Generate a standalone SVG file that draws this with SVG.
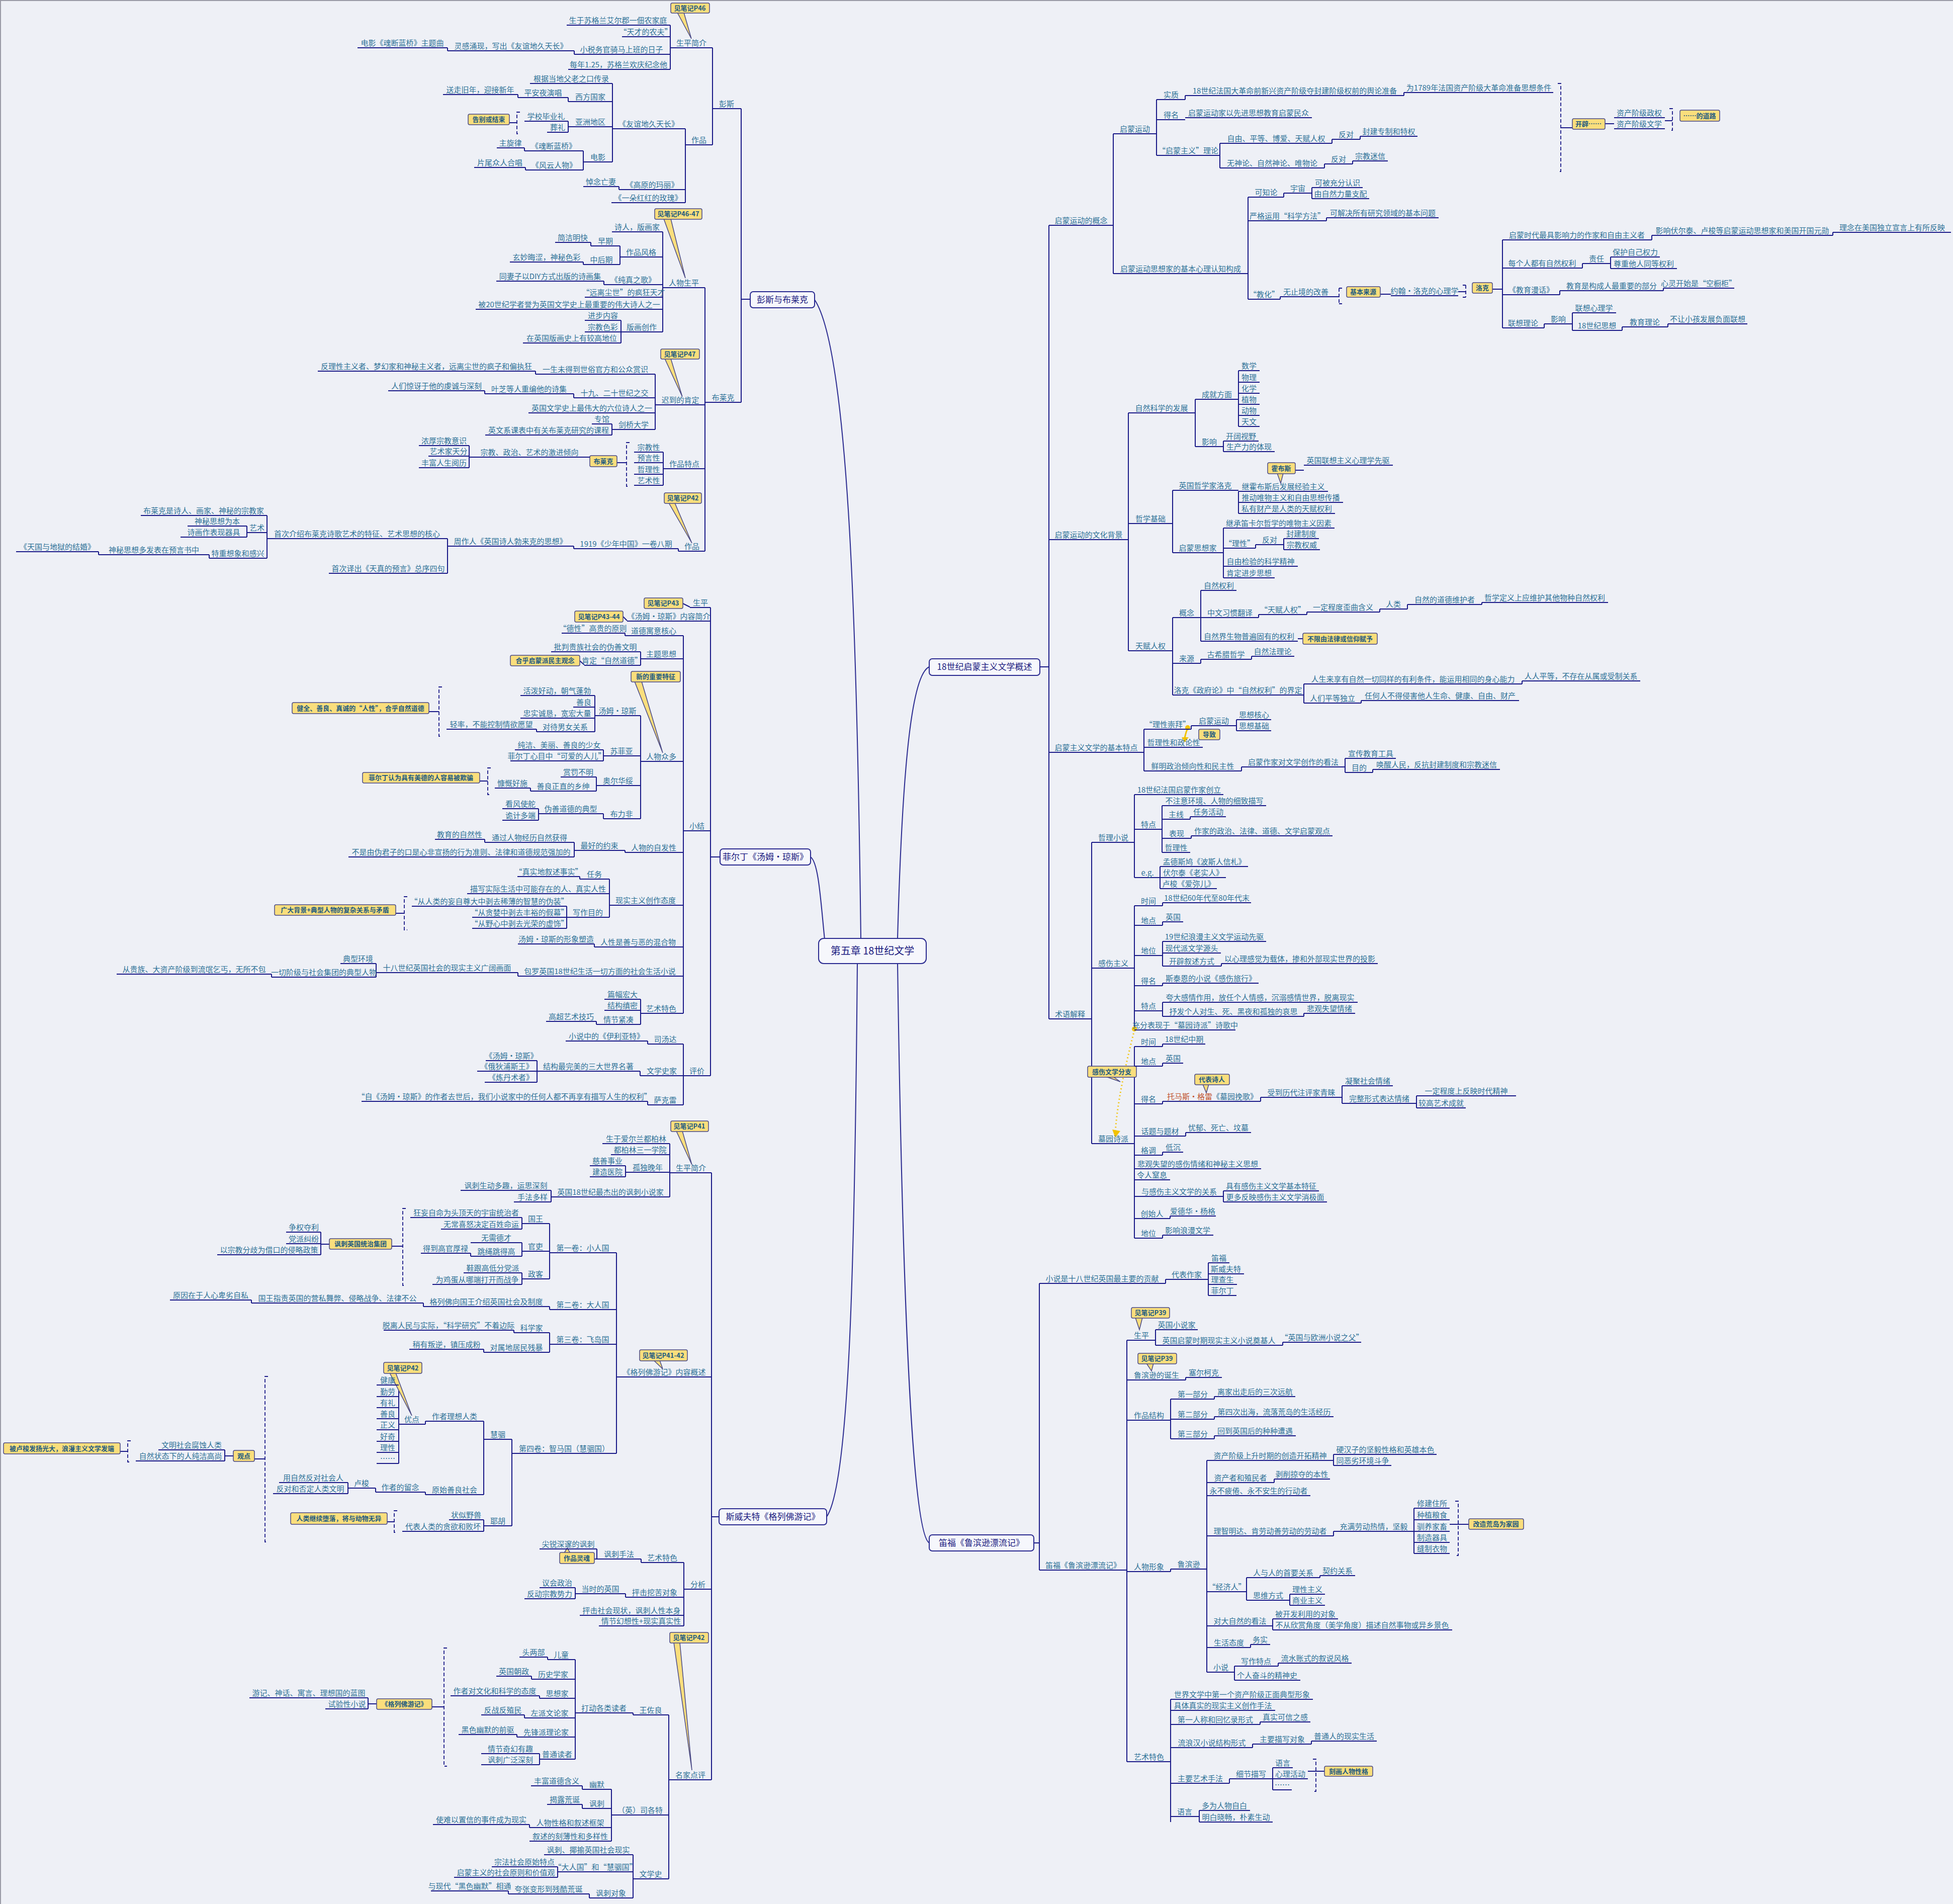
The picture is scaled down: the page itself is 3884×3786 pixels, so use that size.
<svg xmlns="http://www.w3.org/2000/svg" width="3884" height="3786" viewBox="0 0 3884 3786">
<style>
text{font-family:"Noto Sans CJK SC","Noto Sans",sans-serif}
.t{font-size:15px;fill:#2d7196;text-anchor:middle}
.n path{stroke:#1a1a88;stroke-width:2;fill:none}
.k{stroke:#1a1a88;stroke-width:2;fill:none;stroke-linejoin:round}
.d{stroke:#1a1a88;stroke-width:1.8;fill:none;stroke-dasharray:7 4}
.cb{fill:#fade7c;stroke:#4a4a86;stroke-width:1.5}
.ct{font-size:13px;font-weight:bold;fill:#1d5a80;text-anchor:middle}
.m{fill:#f6f7fc;stroke:#2a2a90;stroke-width:2}
.mt{font-size:17px;fill:#1a1a80;text-anchor:middle}
.cv{stroke:#2a2a90;stroke-width:2;fill:none}
</style>
<rect x="0" y="0" width="3884" height="3786" fill="#eef0f6"/>
<path d="M0 1H3884M1 0V3786" stroke="#9a9aa6" stroke-width="2"/>

<g id="connectors">
<path class="cv" d="M1712 1866C1705 1300 1690 700 1620 596"/>
<path class="cv" d="M1640 1868C1632 1790 1628 1715 1612 1704"/>
<path class="cv" d="M1705 1916C1700 2500 1690 2950 1644 3016"/>
<path class="cv" d="M1785 1866C1795 1500 1815 1340 1848 1326"/>
<path class="cv" d="M1785 1916C1795 2600 1815 3050 1848 3068"/>
<path class="k" d="M1474 216V800M1474 595H1492M1417 95V288M1333 50V138M1142 101V108M890 95V101M1363 256V403M1218 166V322M1130 194V202M1030 188V194M1130 241V263M1160 300V338M1043 294V300M1045 333V338M1231 371V377M1402 572V1096M1318 461V660M1233 489V526M1175 482V489M1160 521V526M1201 559V566M1235 637V682M1303 744V854M1065 738V744M1141 783V791M964 777V783M1217 843V865M1319 899V965M933 886V930M1349 1091V1096M1141 1086V1091M890 1071V1140M531 1025V1110M491 1046V1068M416 1103V1110M196 1097V1103"/>
<path class="k" d="M1413 1208V2139M1413 1704H1432M1359 1264V2015M1243 1259V1264M1274 1296V1323M1274 1423V1628M1183 1383V1455M1067 1450V1455M1200 1491V1513M1186 1545V1573M1055 1567V1573M1200 1618V1628M1071 1608V1631M1243 1691V1695M1142 1675V1704M964 1669V1675M1212 1748V1824M1153 1743V1748M1127 1802V1846M1182 1877V1883M1030 1934V1941M748 1916V1943M540 1937V1943M1274 1987V2037M1186 2031V2037M1359 2076V2197M1288 2070V2076M1273 2130V2139M1068 2109V2152M1288 2190V2197"/>
<path class="k" d="M1415 2332V3539M1415 3016H1430M1332 2274V2380M1244 2318V2340M1096 2367V2390M1226 2491V2890M1093 2433V2543M1038 2421V2444M1038 2471V2498M936 2492V2498M1038 2531V2554M638 2450V2495M638 2474H655M1093 2598V2604M842 2591V2598M500 2585V2591M1093 2650V2689M1022 2645V2650M962 2683V2689M1018 2862V3034M962 2826V2972M846 2826V2832M793 2754V2910M846 2967V2972M747 2959V2967M692 2948V2970M962 3022V3045M447 2883V2905M447 2895H464M1360 3107V3233M1275 3100V3107M1187 3080V3100M1244 3169V3176M1144 3157V3179M1330 3410V3736M1259 3406V3410M1144 3300V3498M1089 3295V3300M1057 3333V3339M1073 3372V3377M1043 3410V3416M1028 3449V3454M1073 3487V3509M732 3376V3398M732 3388H749M1216 3558V3661M1158 3551V3558M1158 3588V3596M1053 3628V3634M1259 3688V3774M1109 3712V3733M1172 3766V3774M1011 3760V3766"/>
<path class="k" d="M2086 448V2026M2068 1326H2086M2214 266V544M2300 198V309M2357 190V198M2792 184V190M2426 285V334M2649 277V285M2705 271V277M2634 326V334M2690 320V326M2482 392V595M2553 384V392M2609 373V395M2638 433V439M2546 590V595M2988 477V652M2968 575H2988M3285 468V477M3645 462V468M3147 524V533M3203 511V534M3102 578V586M3308 573V578M3071 644V652M3127 622V657M3226 650V657M3317 644V650M2244 821V1294M2377 794V888M2463 737V848M2433 877V898M2332 975V1099M2463 977V1021M2433 1050V1149M2497 1083V1090M2553 1071V1093M2332 1228V1382M2388 1174V1275M2503 1222V1228M2599 1217V1222M2744 1211V1217M2799 1202V1211M2947 1198V1202M2388 1311V1319M2489 1305V1311M2593 1360V1398M3027 1354V1360M2707 1393V1398M2275 1450V1533M2369 1443V1450M2459 1431V1453M2469 1525V1533M2675 1508V1536M2730 1530V1536M2171 1675V2274M2256 1580V1745M2311 1602V1695M2367 1624V1629M2369 1662V1667M2307 1723V1767M2256 1801V2048M2312 1795V1801M2312 1833V1840M2312 1872V1921M2429 1916V1921M2312 1955V1960M2312 1993V2021M2593 2015V2021M2256 2081V2462M2312 2076V2081M2312 2114V2120M2312 2190V2195M2507 2182V2190M2669 2159V2194M2817 2179V2203M2358 2252V2259M2312 2291V2297M2433 2368V2390M2327 2418V2423M2312 2456V2462"/>
<path class="k" d="M2067 2552V3122M2056 3068H2067M2403 2511V2576M2318 2544V2552M2241 2665V3503M2298 2644V2675M2551 2669V2675M2358 2739V2744M2328 2782V2861M2415 2777V2782M2415 2817V2822M2415 2855V2861M2328 3120V3125M2400 2904V3325M2652 2892V2914M2534 2941V2948M2652 3045V3054M2812 2999V3089M2479 3137V3182M2625 3133V3137M2565 3170V3192M2531 3219V3241M2487 3270V3276M2455 3313V3341M2542 3307V3313M2328 3379V3623M2506 3424V3429M2491 3468V3475M2608 3462V3468M2445 3537V3546M2531 3515V3559M2385 3600V3623"/>
<path class="k" d="M1013 244H1028M1227 920H1246M1358 1200L1372 1207M1239 1226L1247 1234M1153 1314L1162 1322M853 1415H873M954 1553H970M787 1816H804M779 2478H801M770 3026H784M506 2901H527M239 2886H254M1182 3100H1187M859 3394H883M3104 254H3127M3192 246H3210M3311 240H3326M2647 590H2663M2745 585H2766M2900 580H2915M2576 935H2593M2581 1270H2591M2883 3031H2900M2900 3031H2921M2601 3522H2634"/>
<path class="d" d="M1034 223H1028V266H1034M1252 880H1246V967H1252M879 1366H873V1464H879M976 1527H970V1580H976M810 1783H804V1849H810M807 2403H801V2556H807M790 3004H784V3047H790M533 2737H527V3066H533M260 2865H254V2907H260M889 3277H883V3512H889M3098 166H3104V341H3098M3320 216H3326V259H3320M2663 573V604M2669 573H2663M2669 604H2663M2915 567V591M2909 567H2915M2909 591H2915M2894 2985H2900V3093H2894M2611 3498H2617V3562H2611"/>
<path d="M2256 2048C2238 2120 2222 2190 2218 2252" stroke="#f2c200" stroke-width="3" fill="none" stroke-dasharray="2 5"/>
<circle cx="2256" cy="2046" r="5" fill="#f2c200"/>
<path d="M2212 2246L2218 2262L2228 2249Z" fill="#f2c200"/>
<path d="M2362 1447C2358 1458 2356 1464 2356 1470" stroke="#f2c200" stroke-width="3" fill="none"/>
<circle cx="2362" cy="1447" r="5" fill="#f2c200"/>
<path d="M2350 1466L2356 1476L2364 1466Z" fill="#f2c200"/>
</g>

<g id="center"><rect class="m" x="1628" y="1866" width="214" height="50" rx="10"/><text class="mt" x="1735" y="1898" style="font-size:20px">第五章 18世纪文学</text></g>
<g id="burns-blake"><rect class="m" x="1492" y="580" width="128" height="32" rx="6"/><text class="mt" x="1556" y="602">彭斯与布莱克</text></g>
<g id="fielding"><rect class="m" x="1432" y="1688" width="180" height="32" rx="6"/><text class="mt" x="1522" y="1710">菲尔丁《汤姆·琼斯》</text></g>
<g id="swift"><rect class="m" x="1430" y="3000" width="214" height="32" rx="6"/><text class="mt" x="1537" y="3022">斯威夫特《格列佛游记》</text></g>
<g id="overview"><rect class="m" x="1848" y="1310" width="220" height="33" rx="6"/><text class="mt" x="1958" y="1332">18世纪启蒙主义文学概述</text></g>
<g id="defoe"><rect class="m" x="1848" y="3052" width="208" height="32" rx="6"/><text class="mt" x="1952" y="3074">笛福《鲁滨逊漂流记》</text></g>

<g id="c1"><path class="cb" d="M1347 25L1375 77L1360 25Z"/><rect class="cb" x="1334" y="6" width="77" height="20" rx="3"/><text class="ct" x="1372" y="21">见笔记P46</text></g>
<g id="c2"><rect class="cb" x="931" y="227" width="82" height="21" rx="3"/><text class="ct" x="972" y="242">告别或结束</text></g>
<g id="c3"><path class="cb" d="M1320 435L1363 553L1334 435Z"/><rect class="cb" x="1302" y="415" width="94" height="21" rx="3"/><text class="ct" x="1349" y="430">见笔记P46-47</text></g>
<g id="c4"><path class="cb" d="M1322 713L1357 789L1334 713Z"/><rect class="cb" x="1314" y="694" width="77" height="20" rx="3"/><text class="ct" x="1352" y="709">见笔记P47</text></g>
<g id="c5"><rect class="cb" x="1173" y="906" width="54" height="22" rx="3"/><text class="ct" x="1200" y="922">布莱克</text></g>
<g id="c6"><path class="cb" d="M1330 1000L1376 1080L1342 1000Z"/><rect class="cb" x="1321" y="980" width="74" height="21" rx="3"/><text class="ct" x="1358" y="995">见笔记P42</text></g>
<g id="c7"><rect class="cb" x="1281" y="1189" width="77" height="21" rx="3"/><text class="ct" x="1319" y="1204">见笔记P43</text></g>
<g id="c8"><rect class="cb" x="1143" y="1215" width="96" height="22" rx="3"/><text class="ct" x="1191" y="1231">见笔记P43-44</text></g>
<g id="c9"><rect class="cb" x="1015" y="1303" width="138" height="21" rx="3"/><text class="ct" x="1084" y="1318">合乎启蒙派民主观念</text></g>
<g id="c10"><path class="cb" d="M1262 1355L1318 1497L1276 1355Z"/><rect class="cb" x="1255" y="1335" width="98" height="21" rx="3"/><text class="ct" x="1304" y="1350">新的重要特征</text></g>
<g id="c11"><rect class="cb" x="581" y="1397" width="272" height="22" rx="3"/><text class="ct" x="717" y="1413">健全、善良、真诚的“人性”，合乎自然道德</text></g>
<g id="c12"><rect class="cb" x="721" y="1536" width="233" height="21" rx="3"/><text class="ct" x="837" y="1551">菲尔丁认为具有美德的人容易被欺骗</text></g>
<g id="c13"><rect class="cb" x="546" y="1799" width="241" height="21" rx="3"/><text class="ct" x="666" y="1814">广大背景+典型人物的复杂关系与矛盾</text></g>
<g id="c14"><path class="cb" d="M1345 2249L1376 2316L1357 2249Z"/><rect class="cb" x="1334" y="2229" width="75" height="21" rx="3"/><text class="ct" x="1371" y="2244">见笔记P41</text></g>
<g id="c15"><rect class="cb" x="655" y="2463" width="124" height="21" rx="3"/><text class="ct" x="717" y="2478">讽刺英国统治集团</text></g>
<g id="c16"><path class="cb" d="M1300 2705L1318 2722L1312 2705Z"/><rect class="cb" x="1272" y="2684" width="95" height="22" rx="3"/><text class="ct" x="1319" y="2700">见笔记P41-42</text></g>
<g id="c17"><path class="cb" d="M775 2730L819 2815L787 2730Z"/><rect class="cb" x="763" y="2709" width="76" height="22" rx="3"/><text class="ct" x="801" y="2725">见笔记P42</text></g>
<g id="c18"><rect class="cb" x="578" y="3008" width="192" height="23" rx="3"/><text class="ct" x="674" y="3024">人类继续堕落，将与动物无异</text></g>
<g id="c19"><rect class="cb" x="464" y="2884" width="42" height="22" rx="3"/><text class="ct" x="485" y="2900">观点</text></g>
<g id="c20"><rect class="cb" x="7" y="2869" width="232" height="22" rx="3"/><text class="ct" x="123" y="2885">被卢梭发扬光大，浪漫主义文学发端</text></g>
<g id="c21"><path class="cb" d="M1122 3088L1128 3078L1134 3088Z"/><rect class="cb" x="1113" y="3087" width="69" height="22" rx="3"/><text class="ct" x="1147" y="3103">作品灵魂</text></g>
<g id="c22"><path class="cb" d="M1340 3266L1376 3520L1352 3266Z"/><rect class="cb" x="1332" y="3246" width="77" height="21" rx="3"/><text class="ct" x="1370" y="3261">见笔记P42</text></g>
<g id="c23"><rect class="cb" x="749" y="3378" width="110" height="21" rx="3"/><text class="ct" x="804" y="3393">《格列佛游记》</text></g>
<g id="c24"><rect class="cb" x="3127" y="236" width="65" height="21" rx="3"/><text class="ct" x="3159" y="251">开辟……</text></g>
<g id="c25"><rect class="cb" x="3341" y="219" width="79" height="22" rx="3"/><text class="ct" x="3380" y="235">……的道路</text></g>
<g id="c26"><rect class="cb" x="2678" y="570" width="67" height="21" rx="3"/><text class="ct" x="2711" y="585">基本来源</text></g>
<g id="c27"><rect class="cb" x="2928" y="562" width="40" height="21" rx="3"/><text class="ct" x="2948" y="577">洛克</text></g>
<g id="c28"><path class="cb" d="M2540 941L2547 961L2552 941Z"/><rect class="cb" x="2521" y="920" width="55" height="22" rx="3"/><text class="ct" x="2548" y="936">霍布斯</text></g>
<g id="c29"><rect class="cb" x="2591" y="1259" width="148" height="22" rx="3"/><text class="ct" x="2665" y="1275">不限由法律或信仰赋予</text></g>
<g id="c30"><rect class="cb" x="2384" y="1450" width="42" height="21" rx="3"/><text class="ct" x="2405" y="1465">导致</text></g>
<g id="c31"><path class="cb" d="M2200 2141L2228 2151L2214 2141Z"/><rect class="cb" x="2163" y="2120" width="97" height="22" rx="3"/><text class="ct" x="2211" y="2136">感伤文学分支</text></g>
<g id="c32"><path class="cb" d="M2392 2156L2399 2173L2404 2156Z"/><rect class="cb" x="2376" y="2136" width="69" height="21" rx="3"/><text class="ct" x="2410" y="2151">代表诗人</text></g>
<g id="c33"><rect class="cb" x="2921" y="3020" width="109" height="21" rx="3"/><text class="ct" x="2975" y="3035">改造荒岛为家园</text></g>
<g id="c34"><rect class="cb" x="2634" y="3512" width="96" height="20" rx="3"/><text class="ct" x="2682" y="3527">刻画人物性格</text></g>
<g id="c35"><path class="cb" d="M2258 2620L2266 2644L2272 2620Z"/><rect class="cb" x="2250" y="2600" width="76" height="21" rx="3"/><text class="ct" x="2288" y="2615">见笔记P39</text></g>
<g id="c36"><path class="cb" d="M2280 2711L2290 2726L2294 2711Z"/><rect class="cb" x="2263" y="2691" width="77" height="21" rx="3"/><text class="ct" x="2301" y="2706">见笔记P39</text></g>

<g id="b1" class="n"><path d="M1417 216H1474"/><text class="t" x="1445" y="212">彭斯</text></g>
<g id="b2" class="n"><path d="M1333 95H1417"/><text class="t" x="1375" y="91">生平简介</text></g>
<g id="b3" class="n"><path d="M1127 50H1333"/><text class="t" x="1229" y="46">生于苏格兰艾尔郡一佃农家庭</text></g>
<g id="b4" class="n"><path d="M1237 73H1333"/><text class="t" x="1284" y="69">“天才的农夫”</text></g>
<g id="b5" class="n"><path d="M1142 108H1333"/><text class="t" x="1236" y="104">小税务官骑马上班的日子</text></g>
<g id="b6" class="n"><path d="M1130 138H1333"/><text class="t" x="1230" y="134">每年1.25，苏格兰欢庆纪念他</text></g>
<g id="b7" class="n"><path d="M890 101H1142"/><text class="t" x="1016" y="97">灵感涌现，写出《友谊地久天长》</text></g>
<g id="b8" class="n"><path d="M711 95H890"/><text class="t" x="800" y="91">电影《魂断蓝桥》主题曲</text></g>
<g id="b9" class="n"><path d="M1363 288H1417"/><text class="t" x="1390" y="284">作品</text></g>
<g id="b10" class="n"><path d="M1218 256H1363"/><text class="t" x="1290" y="252">《友谊地久天长》</text></g>
<g id="b11" class="n"><path d="M1231 377H1363"/><text class="t" x="1297" y="373">《高原的玛丽》</text></g>
<g id="b12" class="n"><path d="M1216 403H1363"/><text class="t" x="1289" y="399">《一朵红红的玫瑰》</text></g>
<g id="b13" class="n"><path d="M1054 166H1218"/><text class="t" x="1136" y="162">根据当地父老之口传录</text></g>
<g id="b14" class="n"><path d="M1130 202H1218"/><text class="t" x="1174" y="198">西方国家</text></g>
<g id="b15" class="n"><path d="M1130 252H1218"/><text class="t" x="1174" y="248">亚洲地区</text></g>
<g id="b16" class="n"><path d="M1160 322H1218"/><text class="t" x="1189" y="318">电影</text></g>
<g id="b17" class="n"><path d="M1030 194H1130"/><text class="t" x="1080" y="190">平安夜演唱</text></g>
<g id="b18" class="n"><path d="M881 188H1030"/><text class="t" x="955" y="184">送走旧年，迎接新年</text></g>
<g id="b19" class="n"><path d="M1043 241H1130"/><text class="t" x="1086" y="237">学校毕业礼</text></g>
<g id="b20" class="n"><path d="M1088 263H1130"/><text class="t" x="1109" y="259">葬礼</text></g>
<g id="b21" class="n"><path d="M1043 300H1160"/><text class="t" x="1101" y="296">《魂断蓝桥》</text></g>
<g id="b22" class="n"><path d="M1045 338H1160"/><text class="t" x="1102" y="334">《风云人物》</text></g>
<g id="b23" class="n"><path d="M988 294H1043"/><text class="t" x="1015" y="290">主旋律</text></g>
<g id="b24" class="n"><path d="M943 333H1045"/><text class="t" x="994" y="329">片尾众人合唱</text></g>
<g id="b25" class="n"><path d="M1160 371H1231"/><text class="t" x="1195" y="367">悼念亡妻</text></g>
<g id="b26" class="n"><path d="M1402 800H1474"/><text class="t" x="1438" y="796">布莱克</text></g>
<g id="b27" class="n"><path d="M1318 572H1402"/><text class="t" x="1360" y="568">人物生平</text></g>
<g id="b28" class="n"><path d="M1217 461H1318"/><text class="t" x="1267" y="457">诗人，版画家</text></g>
<g id="b29" class="n"><path d="M1233 511H1318"/><text class="t" x="1275" y="507">作品风格</text></g>
<g id="b30" class="n"><path d="M1201 566H1318"/><text class="t" x="1259" y="562">《纯真之歌》</text></g>
<g id="b31" class="n"><path d="M1163 591H1318"/><text class="t" x="1240" y="587">“远离尘世”的疯狂天才</text></g>
<g id="b32" class="n"><path d="M946 615H1318"/><text class="t" x="1132" y="611">被20世纪学者誉为英国文学史上最重要的伟大诗人之一</text></g>
<g id="b33" class="n"><path d="M1235 660H1318"/><text class="t" x="1276" y="656">版画创作</text></g>
<g id="b34" class="n"><path d="M1175 489H1233"/><text class="t" x="1204" y="485">早期</text></g>
<g id="b35" class="n"><path d="M1160 526H1233"/><text class="t" x="1196" y="522">中后期</text></g>
<g id="b36" class="n"><path d="M1104 482H1175"/><text class="t" x="1139" y="478">简洁明快</text></g>
<g id="b37" class="n"><path d="M1014 521H1160"/><text class="t" x="1087" y="517">玄妙晦涩，神秘色彩</text></g>
<g id="b38" class="n"><path d="M987 559H1201"/><text class="t" x="1094" y="555">同妻子以DIY方式出版的诗画集</text></g>
<g id="b39" class="n"><path d="M1163 637H1235"/><text class="t" x="1199" y="633">进步内容</text></g>
<g id="b40" class="n"><path d="M1163 660H1235"/><text class="t" x="1199" y="656">宗教色彩</text></g>
<g id="b41" class="n"><path d="M1040 682H1235"/><text class="t" x="1137" y="678">在英国版画史上有较高地位</text></g>
<g id="b42" class="n"><path d="M1303 805H1402"/><text class="t" x="1353" y="801">迟到的肯定</text></g>
<g id="b43" class="n"><path d="M1065 744H1303"/><text class="t" x="1184" y="740">一生未得到世俗官方和公众赏识</text></g>
<g id="b44" class="n"><path d="M1141 791H1303"/><text class="t" x="1222" y="787">十九、二十世纪之交</text></g>
<g id="b45" class="n"><path d="M1051 821H1303"/><text class="t" x="1177" y="817">英国文学史上最伟大的六位诗人之一</text></g>
<g id="b46" class="n"><path d="M1217 854H1303"/><text class="t" x="1260" y="850">剑桥大学</text></g>
<g id="b47" class="n"><path d="M632 738H1065"/><text class="t" x="848" y="734">反理性主义者、梦幻家和神秘主义者，远离尘世的疯子和偏执狂</text></g>
<g id="b48" class="n"><path d="M964 783H1141"/><text class="t" x="1052" y="779">叶芝等人重编他的诗集</text></g>
<g id="b49" class="n"><path d="M772 777H964"/><text class="t" x="868" y="773">人们惊讶于他的虔诚与深刻</text></g>
<g id="b50" class="n"><path d="M1177 843H1217"/><text class="t" x="1197" y="839">专馆</text></g>
<g id="b51" class="n"><path d="M965 865H1217"/><text class="t" x="1091" y="861">英文系课表中有关布莱克研究的课程</text></g>
<g id="b52" class="n"><path d="M1319 932H1402"/><text class="t" x="1361" y="928">作品特点</text></g>
<g id="b53" class="n"><path d="M1261 899H1319"/><text class="t" x="1290" y="895">宗教性</text></g>
<g id="b54" class="n"><path d="M1261 920H1319"/><text class="t" x="1290" y="916">预言性</text></g>
<g id="b55" class="n"><path d="M1261 943H1319"/><text class="t" x="1290" y="939">哲理性</text></g>
<g id="b56" class="n"><path d="M1261 965H1319"/><text class="t" x="1290" y="961">艺术性</text></g>
<g id="b57" class="n"><path d="M933 909H1173"/><text class="t" x="1053" y="905">宗教、政治、艺术的激进倾向</text></g>
<g id="b58" class="n"><path d="M833 886H933"/><text class="t" x="883" y="882">浓厚宗教意识</text></g>
<g id="b59" class="n"><path d="M852 907H933"/><text class="t" x="892" y="903">艺术家天分</text></g>
<g id="b60" class="n"><path d="M833 930H933"/><text class="t" x="883" y="926">丰富人生阅历</text></g>
<g id="b61" class="n"><path d="M1349 1096H1402"/><text class="t" x="1376" y="1092">作品</text></g>
<g id="b62" class="n"><path d="M1141 1091H1349"/><text class="t" x="1245" y="1087">1919《少年中国》一卷八期</text></g>
<g id="b63" class="n"><path d="M890 1086H1141"/><text class="t" x="1015" y="1082">周作人《英国诗人勃来克的思想》</text></g>
<g id="b64" class="n"><path d="M531 1071H890"/><text class="t" x="710" y="1067">首次介绍布莱克诗歌艺术的特征、艺术思想的核心</text></g>
<g id="b65" class="n"><path d="M654 1140H890"/><text class="t" x="772" y="1136">首次译出《天真的预言》总序四句</text></g>
<g id="b66" class="n"><path d="M280 1025H531"/><text class="t" x="405" y="1021">布莱克是诗人、画家、神秘的宗教家</text></g>
<g id="b67" class="n"><path d="M491 1059H531"/><text class="t" x="511" y="1055">艺术</text></g>
<g id="b68" class="n"><path d="M416 1110H531"/><text class="t" x="473" y="1106">特重想象和感兴</text></g>
<g id="b69" class="n"><path d="M373 1046H491"/><text class="t" x="432" y="1042">神秘思想为本</text></g>
<g id="b70" class="n"><path d="M359 1068H491"/><text class="t" x="425" y="1064">诗画作表现器具</text></g>
<g id="b71" class="n"><path d="M196 1103H416"/><text class="t" x="306" y="1099">神秘思想多发表在预言书中</text></g>
<g id="b72" class="n"><path d="M32 1097H196"/><text class="t" x="114" y="1093">《天国与地狱的结婚》</text></g>

<g id="f1" class="n"><path d="M1372 1208H1413"/><text class="t" x="1393" y="1204">生平</text></g>
<g id="f2" class="n"><path d="M1247 1235H1413"/><text class="t" x="1330" y="1231">《汤姆·琼斯》内容简介</text></g>
<g id="f3" class="n"><path d="M1359 1652H1413"/><text class="t" x="1386" y="1648">小结</text></g>
<g id="f4" class="n"><path d="M1359 2139H1413"/><text class="t" x="1386" y="2135">评价</text></g>
<g id="f5" class="n"><path d="M1243 1264H1359"/><text class="t" x="1300" y="1260">道德寓意核心</text></g>
<g id="f6" class="n"><path d="M1117 1259H1243"/><text class="t" x="1179" y="1255">“德性”高贵的原则</text></g>
<g id="f7" class="n"><path d="M1274 1310H1359"/><text class="t" x="1315" y="1306">主题思想</text></g>
<g id="f8" class="n"><path d="M1096 1296H1274"/><text class="t" x="1184" y="1292">批判贵族社会的伪善文明</text></g>
<g id="f9" class="n"><path d="M1162 1323H1274"/><text class="t" x="1217" y="1319">肯定“自然道德”</text></g>
<g id="f10" class="n"><path d="M1274 1514H1359"/><text class="t" x="1315" y="1510">人物众多</text></g>
<g id="f11" class="n"><path d="M1183 1423H1274"/><text class="t" x="1228" y="1419">汤姆·琼斯</text></g>
<g id="f12" class="n"><path d="M1035 1383H1183"/><text class="t" x="1108" y="1379">活泼好动，朝气蓬勃</text></g>
<g id="f13" class="n"><path d="M1140 1406H1183"/><text class="t" x="1161" y="1402">善良</text></g>
<g id="f14" class="n"><path d="M1035 1428H1183"/><text class="t" x="1108" y="1424">忠实诚恳，宽宏大量</text></g>
<g id="f15" class="n"><path d="M1067 1455H1183"/><text class="t" x="1124" y="1451">对待男女关系</text></g>
<g id="f16" class="n"><path d="M888 1450H1067"/><text class="t" x="977" y="1446">轻率，不能控制情欲愿望</text></g>
<g id="f17" class="n"><path d="M1200 1503H1274"/><text class="t" x="1236" y="1499">苏菲亚</text></g>
<g id="f18" class="n"><path d="M1024 1491H1200"/><text class="t" x="1112" y="1487">纯洁、美丽、善良的少女</text></g>
<g id="f19" class="n"><path d="M1015 1513H1200"/><text class="t" x="1107" y="1509">菲尔丁心目中“可爱的人儿”</text></g>
<g id="f20" class="n"><path d="M1186 1562H1274"/><text class="t" x="1229" y="1558">奥尔华绥</text></g>
<g id="f21" class="n"><path d="M1115 1545H1186"/><text class="t" x="1150" y="1541">赏罚不明</text></g>
<g id="f22" class="n"><path d="M1055 1573H1186"/><text class="t" x="1120" y="1569">善良正直的乡绅</text></g>
<g id="f23" class="n"><path d="M984 1567H1055"/><text class="t" x="1019" y="1563">慷慨好施</text></g>
<g id="f24" class="n"><path d="M1200 1628H1274"/><text class="t" x="1236" y="1624">布力非</text></g>
<g id="f25" class="n"><path d="M1071 1618H1200"/><text class="t" x="1135" y="1614">伪善道德的典型</text></g>
<g id="f26" class="n"><path d="M999 1608H1071"/><text class="t" x="1035" y="1604">看风使舵</text></g>
<g id="f27" class="n"><path d="M999 1631H1071"/><text class="t" x="1035" y="1627">诡计多端</text></g>
<g id="f28" class="n"><path d="M1243 1695H1359"/><text class="t" x="1300" y="1691">人物的自发性</text></g>
<g id="f29" class="n"><path d="M1142 1691H1243"/><text class="t" x="1192" y="1687">最好的约束</text></g>
<g id="f30" class="n"><path d="M964 1675H1142"/><text class="t" x="1053" y="1671">通过人物经历自然获得</text></g>
<g id="f31" class="n"><path d="M693 1704H1142"/><text class="t" x="917" y="1700">不是由伪君子的口是心非宣扬的行为准则、法律和道德规范强加的</text></g>
<g id="f32" class="n"><path d="M865 1669H964"/><text class="t" x="914" y="1665">教育的自然性</text></g>
<g id="f33" class="n"><path d="M1212 1800H1359"/><text class="t" x="1284" y="1796">现实主义创作态度</text></g>
<g id="f34" class="n"><path d="M1153 1748H1212"/><text class="t" x="1182" y="1744">任务</text></g>
<g id="f35" class="n"><path d="M1029 1743H1153"/><text class="t" x="1091" y="1739">“真实地叙述事实”</text></g>
<g id="f36" class="n"><path d="M929 1777H1212"/><text class="t" x="1070" y="1773">描写实际生活中可能存在的人、真实人性</text></g>
<g id="f37" class="n"><path d="M1127 1824H1212"/><text class="t" x="1169" y="1820">写作目的</text></g>
<g id="f38" class="n"><path d="M819 1802H1127"/><text class="t" x="973" y="1798">“从人类的妄自尊大中剥去稀薄的智慧的伪装”</text></g>
<g id="f39" class="n"><path d="M939 1824H1127"/><text class="t" x="1033" y="1820">“从贪婪中剥去丰裕的假幕”</text></g>
<g id="f40" class="n"><path d="M939 1846H1127"/><text class="t" x="1033" y="1842">“从野心中剥去光荣的虚饰”</text></g>
<g id="f41" class="n"><path d="M1182 1883H1359"/><text class="t" x="1269" y="1879">人性是善与恶的混合物</text></g>
<g id="f42" class="n"><path d="M1030 1877H1182"/><text class="t" x="1106" y="1873">汤姆·琼斯的形象塑造</text></g>
<g id="f43" class="n"><path d="M1030 1941H1359"/><text class="t" x="1193" y="1937">包罗英国18世纪生活一切方面的社会生活小说</text></g>
<g id="f44" class="n"><path d="M748 1934H1030"/><text class="t" x="889" y="1930">十八世纪英国社会的现实主义广阔画面</text></g>
<g id="f45" class="n"><path d="M677 1916H748"/><text class="t" x="712" y="1912">典型环境</text></g>
<g id="f46" class="n"><path d="M540 1943H748"/><text class="t" x="644" y="1939">一切阶级与社会集团的典型人物</text></g>
<g id="f47" class="n"><path d="M232 1937H540"/><text class="t" x="386" y="1933">从贵族、大资产阶级到流氓乞丐，无所不包</text></g>
<g id="f48" class="n"><path d="M1274 2015H1359"/><text class="t" x="1315" y="2011">艺术特色</text></g>
<g id="f49" class="n"><path d="M1202 1987H1274"/><text class="t" x="1238" y="1983">篇幅宏大</text></g>
<g id="f50" class="n"><path d="M1202 2009H1274"/><text class="t" x="1238" y="2005">结构缜密</text></g>
<g id="f51" class="n"><path d="M1186 2037H1274"/><text class="t" x="1230" y="2033">情节紧凑</text></g>
<g id="f52" class="n"><path d="M1086 2031H1186"/><text class="t" x="1136" y="2027">高超艺术技巧</text></g>
<g id="f53" class="n"><path d="M1288 2076H1359"/><text class="t" x="1323" y="2072">司汤达</text></g>
<g id="f54" class="n"><path d="M1125 2070H1288"/><text class="t" x="1206" y="2066">小说中的《伊利亚特》</text></g>
<g id="f55" class="n"><path d="M1273 2139H1359"/><text class="t" x="1316" y="2135">文学史家</text></g>
<g id="f56" class="n"><path d="M1068 2130H1273"/><text class="t" x="1170" y="2126">结构最完美的三大世界名著</text></g>
<g id="f57" class="n"><path d="M966 2109H1068"/><text class="t" x="1017" y="2105">《汤姆·琼斯》</text></g>
<g id="f58" class="n"><path d="M949 2130H1068"/><text class="t" x="1008" y="2126">《俄狄浦斯王》</text></g>
<g id="f59" class="n"><path d="M964 2152H1068"/><text class="t" x="1016" y="2148">《炼丹术者》</text></g>
<g id="f60" class="n"><path d="M1288 2197H1359"/><text class="t" x="1323" y="2193">萨克雷</text></g>
<g id="f61" class="n"><path d="M719 2190H1288"/><text class="t" x="1003" y="2186">“自《汤姆·琼斯》的作者去世后，我们小说家中的任何人都不再享有描写人生的权利”</text></g>

<g id="s1" class="n"><path d="M1332 2332H1415"/><text class="t" x="1374" y="2328">生平简介</text></g>
<g id="s2" class="n"><path d="M1198 2274H1332"/><text class="t" x="1265" y="2270">生于爱尔兰都柏林</text></g>
<g id="s3" class="n"><path d="M1215 2296H1332"/><text class="t" x="1273" y="2292">都柏林三一学院</text></g>
<g id="s4" class="n"><path d="M1244 2331H1332"/><text class="t" x="1288" y="2327">孤独晚年</text></g>
<g id="s5" class="n"><path d="M1096 2380H1332"/><text class="t" x="1214" y="2376">英国18世纪最杰出的讽刺小说家</text></g>
<g id="s6" class="n"><path d="M1173 2318H1244"/><text class="t" x="1208" y="2314">慈善事业</text></g>
<g id="s7" class="n"><path d="M1173 2340H1244"/><text class="t" x="1208" y="2336">建造医院</text></g>
<g id="s8" class="n"><path d="M916 2367H1096"/><text class="t" x="1006" y="2363">讽刺生动多趣，运思深刻</text></g>
<g id="s9" class="n"><path d="M1022 2390H1096"/><text class="t" x="1059" y="2386">手法多样</text></g>
<g id="s10" class="n"><path d="M1226 2738H1415"/><text class="t" x="1321" y="2734">《格列佛游记》内容概述</text></g>
<g id="s11" class="n"><path d="M1093 2491H1226"/><text class="t" x="1159" y="2487">第一卷：小人国</text></g>
<g id="s12" class="n"><path d="M1093 2604H1226"/><text class="t" x="1159" y="2600">第二卷：大人国</text></g>
<g id="s13" class="n"><path d="M1093 2673H1226"/><text class="t" x="1159" y="2669">第三卷：飞岛国</text></g>
<g id="s14" class="n"><path d="M1018 2890H1226"/><text class="t" x="1122" y="2886">第四卷：智马国（慧骃国）</text></g>
<g id="s15" class="n"><path d="M1038 2433H1093"/><text class="t" x="1065" y="2429">国王</text></g>
<g id="s16" class="n"><path d="M1038 2488H1093"/><text class="t" x="1065" y="2484">官吏</text></g>
<g id="s17" class="n"><path d="M1038 2543H1093"/><text class="t" x="1065" y="2539">政客</text></g>
<g id="s18" class="n"><path d="M816 2421H1038"/><text class="t" x="927" y="2417">狂妄自命为头顶天的宇宙统治者</text></g>
<g id="s19" class="n"><path d="M877 2444H1038"/><text class="t" x="957" y="2440">无常喜怒决定百姓命运</text></g>
<g id="s20" class="n"><path d="M936 2471H1038"/><text class="t" x="987" y="2467">无需德才</text></g>
<g id="s21" class="n"><path d="M936 2498H1038"/><text class="t" x="987" y="2494">跳绳跳得高</text></g>
<g id="s22" class="n"><path d="M837 2492H936"/><text class="t" x="886" y="2488">得到高官厚禄</text></g>
<g id="s23" class="n"><path d="M922 2531H1038"/><text class="t" x="980" y="2527">鞋跟高低分党派</text></g>
<g id="s24" class="n"><path d="M860 2554H1038"/><text class="t" x="949" y="2550">为鸡蛋从哪端打开而战争</text></g>
<g id="s25" class="n"><path d="M569 2450H638"/><text class="t" x="604" y="2446">争权夺利</text></g>
<g id="s26" class="n"><path d="M569 2473H638"/><text class="t" x="604" y="2469">党派纠纷</text></g>
<g id="s27" class="n"><path d="M432 2495H638"/><text class="t" x="535" y="2491">以宗教分歧为借口的侵略政策</text></g>
<g id="s28" class="n"><path d="M842 2598H1093"/><text class="t" x="967" y="2594">格列佛向国王介绍英国社会及制度</text></g>
<g id="s29" class="n"><path d="M500 2591H842"/><text class="t" x="671" y="2587">国王指责英国的营私舞弊、侵略战争、法律不公</text></g>
<g id="s30" class="n"><path d="M338 2585H500"/><text class="t" x="419" y="2581">原因在于人心卑劣自私</text></g>
<g id="s31" class="n"><path d="M1022 2650H1093"/><text class="t" x="1057" y="2646">科学家</text></g>
<g id="s32" class="n"><path d="M763 2645H1022"/><text class="t" x="892" y="2641">脱离人民与实际，“科学研究”不着边际</text></g>
<g id="s33" class="n"><path d="M962 2689H1093"/><text class="t" x="1027" y="2685">对属地居民残暴</text></g>
<g id="s34" class="n"><path d="M814 2683H962"/><text class="t" x="888" y="2679">稍有叛逆，镇压成粉</text></g>
<g id="s35" class="n"><path d="M962 2862H1018"/><text class="t" x="990" y="2858">慧骃</text></g>
<g id="s36" class="n"><path d="M962 3034H1018"/><text class="t" x="990" y="3030">耶胡</text></g>
<g id="s37" class="n"><path d="M846 2826H962"/><text class="t" x="904" y="2822">作者理想人类</text></g>
<g id="s38" class="n"><path d="M846 2972H962"/><text class="t" x="904" y="2968">原始善良社会</text></g>
<g id="s39" class="n"><path d="M793 2832H846"/><text class="t" x="819" y="2828">优点</text></g>
<g id="s40" class="n"><path d="M749 2754H793"/><text class="t" x="771" y="2750">健康</text></g>
<g id="s41" class="n"><path d="M749 2777H793"/><text class="t" x="771" y="2773">勤劳</text></g>
<g id="s42" class="n"><path d="M749 2799H793"/><text class="t" x="771" y="2795">有礼</text></g>
<g id="s43" class="n"><path d="M749 2821H793"/><text class="t" x="771" y="2817">善良</text></g>
<g id="s44" class="n"><path d="M749 2843H793"/><text class="t" x="771" y="2839">正义</text></g>
<g id="s45" class="n"><path d="M749 2866H793"/><text class="t" x="771" y="2862">好奇</text></g>
<g id="s46" class="n"><path d="M749 2888H793"/><text class="t" x="771" y="2884">理性</text></g>
<g id="s47" class="n"><path d="M749 2910H793"/><text class="t" x="771" y="2906">……</text></g>
<g id="s48" class="n"><path d="M747 2967H846"/><text class="t" x="796" y="2963">作者的留念</text></g>
<g id="s49" class="n"><path d="M692 2959H747"/><text class="t" x="719" y="2955">卢梭</text></g>
<g id="s50" class="n"><path d="M555 2948H692"/><text class="t" x="623" y="2944">用自然反对社会人</text></g>
<g id="s51" class="n"><path d="M543 2970H692"/><text class="t" x="617" y="2966">反对和否定人类文明</text></g>
<g id="s52" class="n"><path d="M893 3022H962"/><text class="t" x="927" y="3018">状似野兽</text></g>
<g id="s53" class="n"><path d="M800 3045H962"/><text class="t" x="881" y="3041">代表人类的贪欲和败坏</text></g>
<g id="s54" class="n"><path d="M315 2883H447"/><text class="t" x="381" y="2879">文明社会腐蚀人类</text></g>
<g id="s55" class="n"><path d="M270 2905H447"/><text class="t" x="359" y="2901">自然状态下的人纯洁高尚</text></g>
<g id="s56" class="n"><path d="M1360 3160H1415"/><text class="t" x="1388" y="3156">分析</text></g>
<g id="s57" class="n"><path d="M1275 3107H1360"/><text class="t" x="1317" y="3103">艺术特色</text></g>
<g id="s58" class="n"><path d="M1187 3100H1275"/><text class="t" x="1231" y="3096">讽刺手法</text></g>
<g id="s59" class="n"><path d="M1073 3080H1187"/><text class="t" x="1130" y="3076">尖锐深邃的讽刺</text></g>
<g id="s60" class="n"><path d="M1244 3176H1360"/><text class="t" x="1302" y="3172">抨击挖苦对象</text></g>
<g id="s61" class="n"><path d="M1144 3169H1244"/><text class="t" x="1194" y="3165">当时的英国</text></g>
<g id="s62" class="n"><path d="M1073 3157H1144"/><text class="t" x="1108" y="3153">议会政治</text></g>
<g id="s63" class="n"><path d="M1043 3179H1144"/><text class="t" x="1093" y="3175">反动宗教势力</text></g>
<g id="s64" class="n"><path d="M1153 3212H1360"/><text class="t" x="1256" y="3208">抨击社会现状，讽刺人性本身</text></g>
<g id="s65" class="n"><path d="M1191 3233H1360"/><text class="t" x="1275" y="3229">情节幻想性+现实真实性</text></g>
<g id="s66" class="n"><path d="M1330 3539H1415"/><text class="t" x="1373" y="3535">名家点评</text></g>
<g id="s67" class="n"><path d="M1259 3410H1330"/><text class="t" x="1294" y="3406">王佐良</text></g>
<g id="s68" class="n"><path d="M1144 3406H1259"/><text class="t" x="1201" y="3402">打动各类读者</text></g>
<g id="s69" class="n"><path d="M1089 3300H1144"/><text class="t" x="1116" y="3296">儿童</text></g>
<g id="s70" class="n"><path d="M1033 3295H1089"/><text class="t" x="1061" y="3291">头两部</text></g>
<g id="s71" class="n"><path d="M1057 3339H1144"/><text class="t" x="1100" y="3335">历史学家</text></g>
<g id="s72" class="n"><path d="M987 3333H1057"/><text class="t" x="1022" y="3329">英国朝政</text></g>
<g id="s73" class="n"><path d="M1073 3377H1144"/><text class="t" x="1108" y="3373">思想家</text></g>
<g id="s74" class="n"><path d="M896 3372H1073"/><text class="t" x="984" y="3368">作者对文化和科学的态度</text></g>
<g id="s75" class="n"><path d="M1043 3416H1144"/><text class="t" x="1093" y="3412">左派文论家</text></g>
<g id="s76" class="n"><path d="M957 3410H1043"/><text class="t" x="1000" y="3406">反战反殖民</text></g>
<g id="s77" class="n"><path d="M1028 3454H1144"/><text class="t" x="1086" y="3450">先锋派理论家</text></g>
<g id="s78" class="n"><path d="M912 3449H1028"/><text class="t" x="970" y="3445">黑色幽默的前驱</text></g>
<g id="s79" class="n"><path d="M1073 3498H1144"/><text class="t" x="1108" y="3494">普通读者</text></g>
<g id="s80" class="n"><path d="M957 3487H1073"/><text class="t" x="1015" y="3483">情节奇幻有趣</text></g>
<g id="s81" class="n"><path d="M957 3509H1073"/><text class="t" x="1015" y="3505">讽刺广泛深刻</text></g>
<g id="s82" class="n"><path d="M496 3376H732"/><text class="t" x="614" y="3372">游记、神话、寓言、理想国的蓝图</text></g>
<g id="s83" class="n"><path d="M647 3398H732"/><text class="t" x="690" y="3394">试验性小说</text></g>
<g id="s84" class="n"><path d="M1216 3609H1330"/><text class="t" x="1273" y="3605">（英）司各特</text></g>
<g id="s85" class="n"><path d="M1158 3558H1216"/><text class="t" x="1187" y="3554">幽默</text></g>
<g id="s86" class="n"><path d="M1056 3551H1158"/><text class="t" x="1107" y="3547">丰富道德含义</text></g>
<g id="s87" class="n"><path d="M1158 3596H1216"/><text class="t" x="1187" y="3592">讽刺</text></g>
<g id="s88" class="n"><path d="M1088 3588H1158"/><text class="t" x="1123" y="3584">揭露荒诞</text></g>
<g id="s89" class="n"><path d="M1053 3634H1216"/><text class="t" x="1134" y="3630">人物性格和叙述框架</text></g>
<g id="s90" class="n"><path d="M861 3628H1053"/><text class="t" x="957" y="3624">使难以置信的事件成为现实</text></g>
<g id="s91" class="n"><path d="M1053 3661H1216"/><text class="t" x="1134" y="3657">叙述的刻薄性和多样性</text></g>
<g id="s92" class="n"><path d="M1259 3736H1330"/><text class="t" x="1294" y="3732">文学史</text></g>
<g id="s93" class="n"><path d="M1082 3688H1259"/><text class="t" x="1170" y="3684">讽刺、揶揄英国社会现实</text></g>
<g id="s94" class="n"><path d="M1109 3722H1259"/><text class="t" x="1184" y="3718">“大人国”和“慧骃国”</text></g>
<g id="s95" class="n"><path d="M978 3712H1109"/><text class="t" x="1043" y="3708">宗法社会原始特点</text></g>
<g id="s96" class="n"><path d="M903 3733H1109"/><text class="t" x="1006" y="3729">启蒙主义的社会原则和价值观</text></g>
<g id="s97" class="n"><path d="M1172 3774H1259"/><text class="t" x="1215" y="3770">讽刺对象</text></g>
<g id="s98" class="n"><path d="M1011 3766H1172"/><text class="t" x="1091" y="3762">夸张变形到残酷荒诞</text></g>
<g id="s99" class="n"><path d="M857 3760H1011"/><text class="t" x="934" y="3756">与现代“黑色幽默”相通</text></g>

<g id="e1" class="n"><path d="M2086 448H2214"/><text class="t" x="2150" y="444">启蒙运动的概念</text></g>
<g id="e2" class="n"><path d="M2214 266H2300"/><text class="t" x="2257" y="262">启蒙运动</text></g>
<g id="e3" class="n"><path d="M2214 544H2482"/><text class="t" x="2348" y="540">启蒙运动思想家的基本心理认知构成</text></g>
<g id="e4" class="n"><path d="M2300 198H2357"/><text class="t" x="2329" y="194">实质</text></g>
<g id="e5" class="n"><path d="M2300 238H2357"/><text class="t" x="2329" y="234">得名</text></g>
<g id="e6" class="n"><path d="M2300 309H2426"/><text class="t" x="2363" y="305">“启蒙主义”理论</text></g>
<g id="e7" class="n"><path d="M2357 190H2792"/><text class="t" x="2575" y="186">18世纪法国大革命前新兴资产阶级夺封建阶级权前的舆论准备</text></g>
<g id="e8" class="n"><path d="M2792 184H3089"/><text class="t" x="2941" y="180">为1789年法国资产阶级大革命准备思想条件</text></g>
<g id="e9" class="n"><path d="M2357 234H2609"/><text class="t" x="2483" y="230">启蒙运动家以先进思想教育启蒙民众</text></g>
<g id="e10" class="n"><path d="M2426 285H2649"/><text class="t" x="2538" y="281">自由、平等、博爱、天赋人权</text></g>
<g id="e11" class="n"><path d="M2426 334H2634"/><text class="t" x="2530" y="330">无神论、自然神论、唯物论</text></g>
<g id="e12" class="n"><path d="M2649 277H2705"/><text class="t" x="2677" y="273">反对</text></g>
<g id="e13" class="n"><path d="M2705 271H2819"/><text class="t" x="2762" y="267">封建专制和特权</text></g>
<g id="e14" class="n"><path d="M2634 326H2690"/><text class="t" x="2662" y="322">反对</text></g>
<g id="e15" class="n"><path d="M2690 320H2760"/><text class="t" x="2725" y="316">宗教迷信</text></g>
<g id="e16" class="n"><path d="M3210 234H3311"/><text class="t" x="3260" y="230">资产阶级政权</text></g>
<g id="e17" class="n"><path d="M3210 256H3311"/><text class="t" x="3260" y="252">资产阶级文学</text></g>
<g id="e18" class="n"><path d="M2482 392H2553"/><text class="t" x="2518" y="388">可知论</text></g>
<g id="e19" class="n"><path d="M2553 384H2609"/><text class="t" x="2581" y="380">宇宙</text></g>
<g id="e20" class="n"><path d="M2609 373H2710"/><text class="t" x="2660" y="369">可被充分认识</text></g>
<g id="e21" class="n"><path d="M2609 395H2723"/><text class="t" x="2666" y="391">由自然力量支配</text></g>
<g id="e22" class="n"><path d="M2482 439H2638"/><text class="t" x="2560" y="435">严格运用“科学方法”</text></g>
<g id="e23" class="n"><path d="M2638 433H2861"/><text class="t" x="2750" y="429">可解决所有研究领域的基本问题</text></g>
<g id="e24" class="n"><path d="M2482 595H2546"/><text class="t" x="2514" y="591">“教化”</text></g>
<g id="e25" class="n"><path d="M2546 590H2647"/><text class="t" x="2597" y="586">无止境的改善</text></g>
<g id="e26" class="n"><path d="M2766 588H2900"/><text class="t" x="2833" y="584">约翰·洛克的心理学</text></g>
<g id="e27" class="n"><path d="M2988 477H3285"/><text class="t" x="3136" y="473">启蒙时代最具影响力的作家和自由主义者</text></g>
<g id="e28" class="n"><path d="M3285 468H3645"/><text class="t" x="3465" y="464">影响伏尔泰、卢梭等启蒙运动思想家和美国开国元勋</text></g>
<g id="e29" class="n"><path d="M3645 462H3880"/><text class="t" x="3763" y="458">理念在美国独立宣言上有所反映</text></g>
<g id="e30" class="n"><path d="M2988 533H3147"/><text class="t" x="3067" y="529">每个人都有自然权利</text></g>
<g id="e31" class="n"><path d="M3147 524H3203"/><text class="t" x="3175" y="520">责任</text></g>
<g id="e32" class="n"><path d="M3203 511H3301"/><text class="t" x="3252" y="507">保护自己权力</text></g>
<g id="e33" class="n"><path d="M3203 534H3335"/><text class="t" x="3269" y="530">尊重他人同等权利</text></g>
<g id="e34" class="n"><path d="M2988 586H3102"/><text class="t" x="3045" y="582">《教育漫话》</text></g>
<g id="e35" class="n"><path d="M3102 578H3308"/><text class="t" x="3205" y="574">教育是构成人最重要的部分</text></g>
<g id="e36" class="n"><path d="M3308 573H3449"/><text class="t" x="3378" y="569">心灵开始是“空橱柜”</text></g>
<g id="e37" class="n"><path d="M2988 652H3071"/><text class="t" x="3029" y="648">联想理论</text></g>
<g id="e38" class="n"><path d="M3071 644H3127"/><text class="t" x="3099" y="640">影响</text></g>
<g id="e39" class="n"><path d="M3127 622H3214"/><text class="t" x="3170" y="618">联想心理学</text></g>
<g id="e40" class="n"><path d="M3127 657H3226"/><text class="t" x="3176" y="653">18世纪思想</text></g>
<g id="e41" class="n"><path d="M3226 650H3317"/><text class="t" x="3271" y="646">教育理论</text></g>
<g id="e42" class="n"><path d="M3317 644H3475"/><text class="t" x="3396" y="640">不让小孩发展负面联想</text></g>
<g id="e43" class="n"><path d="M2086 1073H2244"/><text class="t" x="2165" y="1069">启蒙运动的文化背景</text></g>
<g id="e44" class="n"><path d="M2244 821H2377"/><text class="t" x="2310" y="817">自然科学的发展</text></g>
<g id="e45" class="n"><path d="M2377 794H2463"/><text class="t" x="2420" y="790">成就方面</text></g>
<g id="e46" class="n"><path d="M2463 737H2505"/><text class="t" x="2484" y="733">数学</text></g>
<g id="e47" class="n"><path d="M2463 760H2505"/><text class="t" x="2484" y="756">物理</text></g>
<g id="e48" class="n"><path d="M2463 782H2505"/><text class="t" x="2484" y="778">化学</text></g>
<g id="e49" class="n"><path d="M2463 804H2505"/><text class="t" x="2484" y="800">植物</text></g>
<g id="e50" class="n"><path d="M2463 826H2505"/><text class="t" x="2484" y="822">动物</text></g>
<g id="e51" class="n"><path d="M2463 848H2505"/><text class="t" x="2484" y="844">天文</text></g>
<g id="e52" class="n"><path d="M2377 888H2433"/><text class="t" x="2405" y="884">影响</text></g>
<g id="e53" class="n"><path d="M2433 877H2503"/><text class="t" x="2468" y="873">开阔视野</text></g>
<g id="e54" class="n"><path d="M2433 898H2535"/><text class="t" x="2484" y="894">生产力的体现</text></g>
<g id="e55" class="n"><path d="M2244 1041H2332"/><text class="t" x="2288" y="1037">哲学基础</text></g>
<g id="e56" class="n"><path d="M2332 975H2463"/><text class="t" x="2397" y="971">英国哲学家洛克</text></g>
<g id="e57" class="n"><path d="M2463 977H2641"/><text class="t" x="2552" y="973">继霍布斯后发展经验主义</text></g>
<g id="e58" class="n"><path d="M2463 999H2671"/><text class="t" x="2567" y="995">推动唯物主义和自由思想传播</text></g>
<g id="e59" class="n"><path d="M2463 1021H2655"/><text class="t" x="2559" y="1017">私有财产是人类的天赋权利</text></g>
<g id="e60" class="n"><path d="M2593 925H2770"/><text class="t" x="2681" y="921">英国联想主义心理学先驱</text></g>
<g id="e61" class="n"><path d="M2332 1099H2433"/><text class="t" x="2382" y="1095">启蒙思想家</text></g>
<g id="e62" class="n"><path d="M2433 1050H2654"/><text class="t" x="2543" y="1046">继承笛卡尔哲学的唯物主义因素</text></g>
<g id="e63" class="n"><path d="M2433 1090H2497"/><text class="t" x="2465" y="1086">“理性”</text></g>
<g id="e64" class="n"><path d="M2497 1083H2553"/><text class="t" x="2525" y="1079">反对</text></g>
<g id="e65" class="n"><path d="M2553 1071H2623"/><text class="t" x="2588" y="1067">封建制度</text></g>
<g id="e66" class="n"><path d="M2553 1093H2625"/><text class="t" x="2589" y="1089">宗教权威</text></g>
<g id="e67" class="n"><path d="M2433 1126H2581"/><text class="t" x="2507" y="1122">自由检验的科学精神</text></g>
<g id="e68" class="n"><path d="M2433 1149H2535"/><text class="t" x="2484" y="1145">肯定进步思想</text></g>
<g id="e69" class="n"><path d="M2244 1294H2332"/><text class="t" x="2288" y="1290">天赋人权</text></g>
<g id="e70" class="n"><path d="M2332 1228H2388"/><text class="t" x="2360" y="1224">概念</text></g>
<g id="e71" class="n"><path d="M2388 1174H2459"/><text class="t" x="2424" y="1170">自然权利</text></g>
<g id="e72" class="n"><path d="M2388 1228H2503"/><text class="t" x="2446" y="1224">中文习惯翻译</text></g>
<g id="e73" class="n"><path d="M2503 1222H2599"/><text class="t" x="2551" y="1218">“天赋人权”</text></g>
<g id="e74" class="n"><path d="M2599 1217H2744"/><text class="t" x="2671" y="1213">一定程度歪曲含义</text></g>
<g id="e75" class="n"><path d="M2744 1211H2799"/><text class="t" x="2771" y="1207">人类</text></g>
<g id="e76" class="n"><path d="M2799 1202H2947"/><text class="t" x="2873" y="1198">自然的道德维护者</text></g>
<g id="e77" class="n"><path d="M2947 1198H3198"/><text class="t" x="3072" y="1194">哲学定义上应维护其他物种自然权利</text></g>
<g id="e78" class="n"><path d="M2388 1275H2581"/><text class="t" x="2484" y="1271">自然界生物普遍固有的权利</text></g>
<g id="e79" class="n"><path d="M2332 1319H2388"/><text class="t" x="2360" y="1315">来源</text></g>
<g id="e80" class="n"><path d="M2388 1311H2489"/><text class="t" x="2438" y="1307">古希腊哲学</text></g>
<g id="e81" class="n"><path d="M2489 1305H2574"/><text class="t" x="2531" y="1301">自然法理论</text></g>
<g id="e82" class="n"><path d="M2332 1382H2593"/><text class="t" x="2462" y="1378">洛克《政府论》中“自然权利”的界定</text></g>
<g id="e83" class="n"><path d="M2593 1360H3027"/><text class="t" x="2810" y="1356">人生来享有自然一切同样的有利条件，能运用相同的身心能力</text></g>
<g id="e84" class="n"><path d="M3027 1354H3262"/><text class="t" x="3144" y="1350">人人平等，不存在从属或受制关系</text></g>
<g id="e85" class="n"><path d="M2593 1398H2707"/><text class="t" x="2650" y="1394">人们平等独立</text></g>
<g id="e86" class="n"><path d="M2707 1393H3021"/><text class="t" x="2864" y="1389">任何人不得侵害他人生命、健康、自由、财产</text></g>
<g id="e87" class="n"><path d="M2086 1496H2275"/><text class="t" x="2180" y="1492">启蒙主义文学的基本特点</text></g>
<g id="e88" class="n"><path d="M2275 1450H2369"/><text class="t" x="2322" y="1446">“理性崇拜”</text></g>
<g id="e89" class="n"><path d="M2369 1443H2459"/><text class="t" x="2414" y="1439">启蒙运动</text></g>
<g id="e90" class="n"><path d="M2459 1431H2528"/><text class="t" x="2494" y="1427">思想核心</text></g>
<g id="e91" class="n"><path d="M2459 1453H2528"/><text class="t" x="2494" y="1449">思想基础</text></g>
<g id="e92" class="n"><path d="M2275 1486H2392"/><text class="t" x="2334" y="1482">哲理性和政论性</text></g>
<g id="e93" class="n"><path d="M2275 1533H2469"/><text class="t" x="2372" y="1529">鲜明政治倾向性和民主性</text></g>
<g id="e94" class="n"><path d="M2469 1525H2675"/><text class="t" x="2572" y="1521">启蒙作家对文学创作的看法</text></g>
<g id="e95" class="n"><path d="M2675 1508H2776"/><text class="t" x="2726" y="1504">宣传教育工具</text></g>
<g id="e96" class="n"><path d="M2675 1536H2730"/><text class="t" x="2703" y="1532">目的</text></g>
<g id="e97" class="n"><path d="M2730 1530H2983"/><text class="t" x="2857" y="1526">唤醒人民，反抗封建制度和宗教迷信</text></g>
<g id="e98" class="n"><path d="M2086 2026H2171"/><text class="t" x="2128" y="2022">术语解释</text></g>
<g id="e99" class="n"><path d="M2171 1675H2256"/><text class="t" x="2214" y="1671">哲理小说</text></g>
<g id="e100" class="n"><path d="M2256 1580H2433"/><text class="t" x="2345" y="1576">18世纪法国启蒙作家创立</text></g>
<g id="e101" class="n"><path d="M2256 1649H2311"/><text class="t" x="2284" y="1645">特点</text></g>
<g id="e102" class="n"><path d="M2311 1602H2518"/><text class="t" x="2415" y="1598">不注意环境、人物的细致描写</text></g>
<g id="e103" class="n"><path d="M2311 1629H2367"/><text class="t" x="2339" y="1625">主线</text></g>
<g id="e104" class="n"><path d="M2367 1624H2438"/><text class="t" x="2403" y="1620">任务活动</text></g>
<g id="e105" class="n"><path d="M2311 1667H2369"/><text class="t" x="2340" y="1663">表现</text></g>
<g id="e106" class="n"><path d="M2369 1662H2650"/><text class="t" x="2510" y="1658">作家的政治、法律、道德、文学启蒙观点</text></g>
<g id="e107" class="n"><path d="M2311 1695H2367"/><text class="t" x="2339" y="1691">哲理性</text></g>
<g id="e108" class="n"><path d="M2256 1745H2307"/><text class="t" x="2282" y="1741">e.g.</text></g>
<g id="e109" class="n"><path d="M2307 1723H2482"/><text class="t" x="2395" y="1719">孟德斯鸠《波斯人信札》</text></g>
<g id="e110" class="n"><path d="M2307 1745H2438"/><text class="t" x="2373" y="1741">伏尔泰《老实人》</text></g>
<g id="e111" class="n"><path d="M2307 1767H2420"/><text class="t" x="2364" y="1763">卢梭《爱弥儿》</text></g>
<g id="e112" class="n"><path d="M2171 1925H2256"/><text class="t" x="2214" y="1921">感伤主义</text></g>
<g id="e113" class="n"><path d="M2256 1801H2312"/><text class="t" x="2284" y="1797">时间</text></g>
<g id="e114" class="n"><path d="M2312 1795H2488"/><text class="t" x="2400" y="1791">18世纪60年代至80年代末</text></g>
<g id="e115" class="n"><path d="M2256 1840H2312"/><text class="t" x="2284" y="1836">地点</text></g>
<g id="e116" class="n"><path d="M2312 1833H2353"/><text class="t" x="2333" y="1829">英国</text></g>
<g id="e117" class="n"><path d="M2256 1900H2312"/><text class="t" x="2284" y="1896">地位</text></g>
<g id="e118" class="n"><path d="M2312 1872H2518"/><text class="t" x="2415" y="1868">19世纪浪漫主义文学运动先驱</text></g>
<g id="e119" class="n"><path d="M2312 1895H2428"/><text class="t" x="2370" y="1891">现代派文学源头</text></g>
<g id="e120" class="n"><path d="M2312 1921H2429"/><text class="t" x="2370" y="1917">开辟叙述方式</text></g>
<g id="e121" class="n"><path d="M2429 1916H2740"/><text class="t" x="2585" y="1912">以心理感觉为载体，掺和外部现实世界的投影</text></g>
<g id="e122" class="n"><path d="M2256 1960H2312"/><text class="t" x="2284" y="1956">得名</text></g>
<g id="e123" class="n"><path d="M2312 1955H2503"/><text class="t" x="2408" y="1951">斯泰恩的小说《感伤旅行》</text></g>
<g id="e124" class="n"><path d="M2256 2010H2312"/><text class="t" x="2284" y="2006">特点</text></g>
<g id="e125" class="n"><path d="M2312 1993H2700"/><text class="t" x="2506" y="1989">夸大感情作用，放任个人情感，沉溺感情世界，脱离现实</text></g>
<g id="e126" class="n"><path d="M2312 2021H2593"/><text class="t" x="2453" y="2017">抒发个人对生、死、黑夜和孤独的哀思</text></g>
<g id="e127" class="n"><path d="M2593 2015H2695"/><text class="t" x="2644" y="2011">悲观失望情绪</text></g>
<g id="e128" class="n"><path d="M2256 2048H2457"/><text class="t" x="2357" y="2044">充分表现于“墓园诗派”诗歌中</text></g>
<g id="e129" class="n"><path d="M2171 2274H2256"/><text class="t" x="2214" y="2270">墓园诗派</text></g>
<g id="e130" class="n"><path d="M2256 2081H2312"/><text class="t" x="2284" y="2077">时间</text></g>
<g id="e131" class="n"><path d="M2312 2076H2397"/><text class="t" x="2355" y="2072">18世纪中期</text></g>
<g id="e132" class="n"><path d="M2256 2120H2312"/><text class="t" x="2284" y="2116">地点</text></g>
<g id="e133" class="n"><path d="M2312 2114H2353"/><text class="t" x="2333" y="2110">英国</text></g>
<g id="e134" class="n"><path d="M2256 2195H2312"/><text class="t" x="2284" y="2191">得名</text></g>
<g id="e135" class="n"><path d="M2312 2190H2507"/><text class="t" x="2411" y="2186"><tspan fill="#c0502a">托马斯·格雷</tspan>《墓园挽歌》</text></g>
<g id="e136" class="n"><path d="M2507 2182H2669"/><text class="t" x="2588" y="2178">受到历代注评家青睐</text></g>
<g id="e137" class="n"><path d="M2669 2159H2770"/><text class="t" x="2720" y="2155">凝聚社会情绪</text></g>
<g id="e138" class="n"><path d="M2669 2194H2817"/><text class="t" x="2743" y="2190">完整形式表达情绪</text></g>
<g id="e139" class="n"><path d="M2817 2179H3015"/><text class="t" x="2916" y="2175">一定程度上反映时代精神</text></g>
<g id="e140" class="n"><path d="M2817 2203H2915"/><text class="t" x="2866" y="2199">较高艺术成就</text></g>
<g id="e141" class="n"><path d="M2256 2259H2358"/><text class="t" x="2307" y="2255">话题与题材</text></g>
<g id="e142" class="n"><path d="M2358 2252H2488"/><text class="t" x="2423" y="2248">忧郁、死亡、坟墓</text></g>
<g id="e143" class="n"><path d="M2256 2297H2312"/><text class="t" x="2284" y="2293">格调</text></g>
<g id="e144" class="n"><path d="M2312 2291H2353"/><text class="t" x="2333" y="2287">低沉</text></g>
<g id="e145" class="n"><path d="M2256 2324H2508"/><text class="t" x="2382" y="2320">悲观失望的感伤情绪和神秘主义思想</text></g>
<g id="e146" class="n"><path d="M2256 2346H2327"/><text class="t" x="2291" y="2342">令人窒息</text></g>
<g id="e147" class="n"><path d="M2256 2379H2433"/><text class="t" x="2345" y="2375">与感伤主义文学的关系</text></g>
<g id="e148" class="n"><path d="M2433 2368H2623"/><text class="t" x="2528" y="2364">具有感伤主义文学基本特征</text></g>
<g id="e149" class="n"><path d="M2433 2390H2639"/><text class="t" x="2536" y="2386">更多反映感伤主义文学消极面</text></g>
<g id="e150" class="n"><path d="M2256 2423H2327"/><text class="t" x="2291" y="2419">创始人</text></g>
<g id="e151" class="n"><path d="M2327 2418H2418"/><text class="t" x="2372" y="2414">爱德华·杨格</text></g>
<g id="e152" class="n"><path d="M2256 2462H2312"/><text class="t" x="2284" y="2458">地位</text></g>
<g id="e153" class="n"><path d="M2312 2456H2413"/><text class="t" x="2362" y="2452">影响浪漫文学</text></g>

<g id="d1" class="n"><path d="M2067 2552H2318"/><text class="t" x="2192" y="2548">小说是十八世纪英国最主要的贡献</text></g>
<g id="d2" class="n"><path d="M2318 2544H2403"/><text class="t" x="2360" y="2540">代表作家</text></g>
<g id="d3" class="n"><path d="M2403 2511H2445"/><text class="t" x="2424" y="2507">笛福</text></g>
<g id="d4" class="n"><path d="M2403 2533H2474"/><text class="t" x="2438" y="2529">斯威夫特</text></g>
<g id="d5" class="n"><path d="M2403 2554H2460"/><text class="t" x="2431" y="2550">理查生</text></g>
<g id="d6" class="n"><path d="M2403 2576H2459"/><text class="t" x="2431" y="2572">菲尔丁</text></g>
<g id="d7" class="n"><path d="M2067 3122H2241"/><text class="t" x="2154" y="3118">笛福《鲁滨逊漂流记》</text></g>
<g id="d8" class="n"><path d="M2241 2665H2298"/><text class="t" x="2270" y="2661">生平</text></g>
<g id="d9" class="n"><path d="M2298 2644H2382"/><text class="t" x="2340" y="2640">英国小说家</text></g>
<g id="d10" class="n"><path d="M2298 2675H2551"/><text class="t" x="2424" y="2671">英国启蒙时期现实主义小说奠基人</text></g>
<g id="d11" class="n"><path d="M2551 2669H2707"/><text class="t" x="2629" y="2665">“英国与欧洲小说之父”</text></g>
<g id="d12" class="n"><path d="M2241 2744H2358"/><text class="t" x="2300" y="2740">鲁滨逊的诞生</text></g>
<g id="d13" class="n"><path d="M2358 2739H2430"/><text class="t" x="2394" y="2735">塞尔柯克</text></g>
<g id="d14" class="n"><path d="M2241 2824H2328"/><text class="t" x="2285" y="2820">作品结构</text></g>
<g id="d15" class="n"><path d="M2328 2782H2415"/><text class="t" x="2372" y="2778">第一部分</text></g>
<g id="d16" class="n"><path d="M2415 2777H2576"/><text class="t" x="2496" y="2773">离家出走后的三次远航</text></g>
<g id="d17" class="n"><path d="M2328 2822H2415"/><text class="t" x="2372" y="2818">第二部分</text></g>
<g id="d18" class="n"><path d="M2415 2817H2652"/><text class="t" x="2534" y="2813">第四次出海，流落荒岛的生活经历</text></g>
<g id="d19" class="n"><path d="M2328 2861H2415"/><text class="t" x="2372" y="2857">第三部分</text></g>
<g id="d20" class="n"><path d="M2415 2855H2577"/><text class="t" x="2496" y="2851">回到英国后的种种遭遇</text></g>
<g id="d21" class="n"><path d="M2241 3125H2328"/><text class="t" x="2285" y="3121">人物形象</text></g>
<g id="d22" class="n"><path d="M2328 3120H2400"/><text class="t" x="2364" y="3116">鲁滨逊</text></g>
<g id="d23" class="n"><path d="M2400 2904H2652"/><text class="t" x="2526" y="2900">资产阶级上升时期的创造开拓精神</text></g>
<g id="d24" class="n"><path d="M2652 2892H2857"/><text class="t" x="2755" y="2888">硬汉子的坚毅性格和英雄本色</text></g>
<g id="d25" class="n"><path d="M2652 2914H2767"/><text class="t" x="2710" y="2910">同恶劣环境斗争</text></g>
<g id="d26" class="n"><path d="M2400 2948H2534"/><text class="t" x="2467" y="2944">资产者和殖民者</text></g>
<g id="d27" class="n"><path d="M2534 2941H2645"/><text class="t" x="2589" y="2937">剥削掠夺的本性</text></g>
<g id="d28" class="n"><path d="M2400 2974H2606"/><text class="t" x="2503" y="2970">永不疲倦、永不安生的行动者</text></g>
<g id="d29" class="n"><path d="M2400 3054H2652"/><text class="t" x="2526" y="3050">理智明达、肯劳动善劳动的劳动者</text></g>
<g id="d30" class="n"><path d="M2652 3045H2812"/><text class="t" x="2732" y="3041">充满劳动热情，坚毅</text></g>
<g id="d31" class="n"><path d="M2812 2999H2883"/><text class="t" x="2848" y="2995">修建住所</text></g>
<g id="d32" class="n"><path d="M2812 3022H2883"/><text class="t" x="2848" y="3018">种植粮食</text></g>
<g id="d33" class="n"><path d="M2812 3045H2883"/><text class="t" x="2848" y="3041">驯养家畜</text></g>
<g id="d34" class="n"><path d="M2812 3067H2883"/><text class="t" x="2848" y="3063">制造器具</text></g>
<g id="d35" class="n"><path d="M2812 3089H2883"/><text class="t" x="2848" y="3085">缝制衣物</text></g>
<g id="d36" class="n"><path d="M2400 3165H2479"/><text class="t" x="2440" y="3161">“经济人”</text></g>
<g id="d37" class="n"><path d="M2479 3137H2625"/><text class="t" x="2552" y="3133">人与人的首要关系</text></g>
<g id="d38" class="n"><path d="M2625 3133H2695"/><text class="t" x="2660" y="3129">契约关系</text></g>
<g id="d39" class="n"><path d="M2479 3182H2565"/><text class="t" x="2522" y="3178">思维方式</text></g>
<g id="d40" class="n"><path d="M2565 3170H2635"/><text class="t" x="2600" y="3166">理性主义</text></g>
<g id="d41" class="n"><path d="M2565 3192H2635"/><text class="t" x="2600" y="3188">商业主义</text></g>
<g id="d42" class="n"><path d="M2400 3233H2531"/><text class="t" x="2466" y="3229">对大自然的看法</text></g>
<g id="d43" class="n"><path d="M2531 3219H2661"/><text class="t" x="2596" y="3215">被开发利用的对象</text></g>
<g id="d44" class="n"><path d="M2531 3241H2888"/><text class="t" x="2709" y="3237">不从欣赏角度（美学角度）描述自然事物或异乡景色</text></g>
<g id="d45" class="n"><path d="M2400 3276H2487"/><text class="t" x="2444" y="3272">生活态度</text></g>
<g id="d46" class="n"><path d="M2487 3270H2526"/><text class="t" x="2506" y="3266">务实</text></g>
<g id="d47" class="n"><path d="M2400 3325H2455"/><text class="t" x="2428" y="3321">小说</text></g>
<g id="d48" class="n"><path d="M2455 3313H2542"/><text class="t" x="2498" y="3309">写作特点</text></g>
<g id="d49" class="n"><path d="M2542 3307H2688"/><text class="t" x="2615" y="3303">流水账式的叙说风格</text></g>
<g id="d50" class="n"><path d="M2455 3341H2586"/><text class="t" x="2520" y="3337">个人奋斗的精神史</text></g>
<g id="d51" class="n"><path d="M2241 3503H2328"/><text class="t" x="2285" y="3499">艺术特色</text></g>
<g id="d52" class="n"><path d="M2328 3379H2611"/><text class="t" x="2470" y="3375">世界文学中第一个资产阶级正面典型形象</text></g>
<g id="d53" class="n"><path d="M2328 3401H2536"/><text class="t" x="2432" y="3397">具体真实的现实主义创作手法</text></g>
<g id="d54" class="n"><path d="M2328 3429H2506"/><text class="t" x="2417" y="3425">第一人称和回忆录形式</text></g>
<g id="d55" class="n"><path d="M2506 3424H2606"/><text class="t" x="2556" y="3420">真实可信之感</text></g>
<g id="d56" class="n"><path d="M2328 3475H2491"/><text class="t" x="2410" y="3471">流浪汉小说结构形式</text></g>
<g id="d57" class="n"><path d="M2491 3468H2608"/><text class="t" x="2550" y="3464">主要描写对象</text></g>
<g id="d58" class="n"><path d="M2608 3462H2738"/><text class="t" x="2673" y="3458">普通人的现实生活</text></g>
<g id="d59" class="n"><path d="M2328 3546H2445"/><text class="t" x="2387" y="3542">主要艺术手法</text></g>
<g id="d60" class="n"><path d="M2445 3537H2531"/><text class="t" x="2488" y="3533">细节描写</text></g>
<g id="d61" class="n"><path d="M2531 3515H2571"/><text class="t" x="2551" y="3511">语言</text></g>
<g id="d62" class="n"><path d="M2531 3537H2601"/><text class="t" x="2566" y="3533">心理活动</text></g>
<g id="d63" class="n"><path d="M2531 3559H2569"/><text class="t" x="2550" y="3555">……</text></g>
<g id="d64" class="n"><path d="M2328 3612H2385"/><text class="t" x="2356" y="3608">语言</text></g>
<g id="d65" class="n"><path d="M2385 3600H2486"/><text class="t" x="2435" y="3596">多为人物自白</text></g>
<g id="d66" class="n"><path d="M2385 3623H2531"/><text class="t" x="2458" y="3619">明白晓畅，朴素生动</text></g>
</svg>
